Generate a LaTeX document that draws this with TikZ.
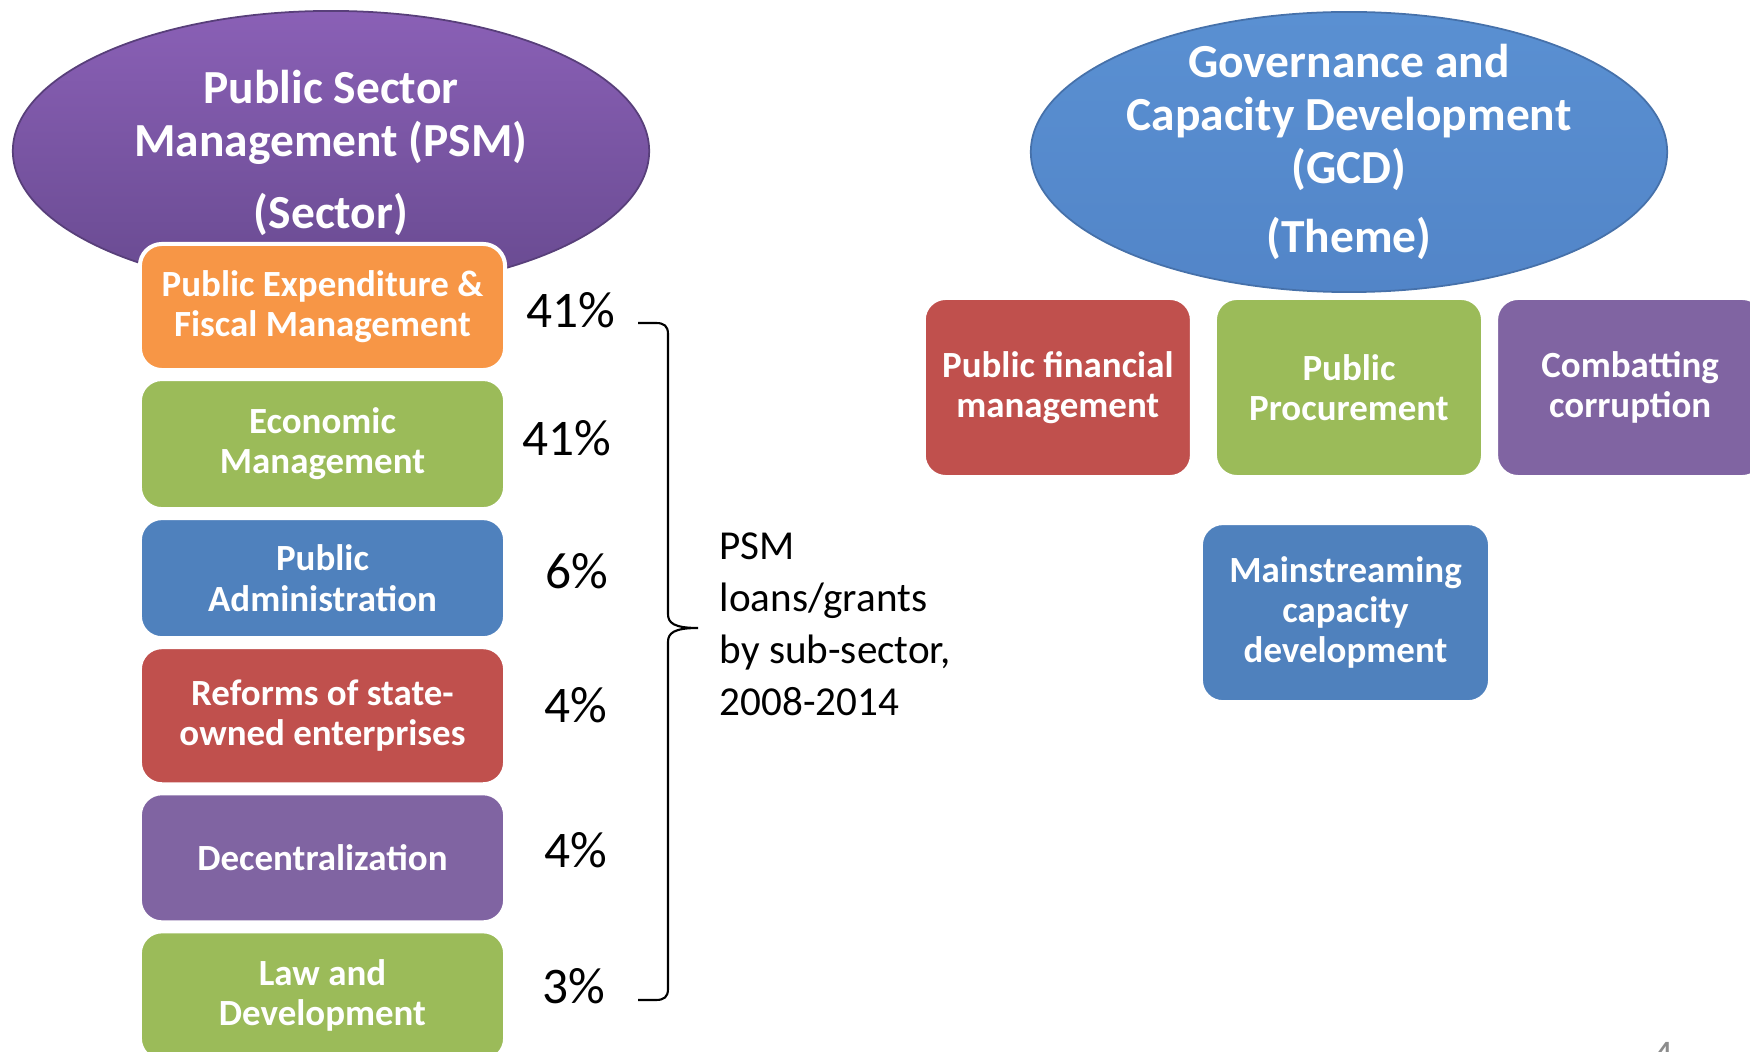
\documentclass[tikz,border=0pt]{standalone}
\usepackage{fontspec}
\setmainfont{Carlito}
\usetikzlibrary{positioning, shapes.geometric}
\definecolor{orng}{HTML}{F79646}
\definecolor{grn}{HTML}{9BBB59}
\definecolor{blu}{HTML}{4F81BD}
\definecolor{rd}{HTML}{C0504D}
\definecolor{prpl}{HTML}{8064A2}
\definecolor{psmtop}{HTML}{8A60B6}
\definecolor{psmbot}{HTML}{684A90}
\definecolor{gcdtop}{HTML}{5A90D2}
\definecolor{gcdbot}{HTML}{5285C8}

\begin{document}
\begin{tikzpicture}[x=0.01cm,y=-0.01cm,node distance=0.09cm,
        oval/.style={ellipse,inner sep=0pt,minimum width=6.36cm,minimum height=2.8cm,line width=0.5pt},
        title/.style={text=white,align=center,font=\fontsize{13.5}{15.1}\selectfont\bfseries},
        sub/.style={rounded corners=0.22cm,draw=white,line width=0.04cm,fill=#1,text=white,
            align=center,outer sep=0pt,minimum width=3.65cm,font=\fontsize{10.5}{11.4}\selectfont\bfseries},
        pct/.style={font=\fontsize{14.6}{17}\selectfont},
        note/.style={align=left,font=\fontsize{11.7}{14.8}\selectfont}]
                \useasboundingbox (0,0) rectangle (1750,1052);
                \node[oval,draw=psmbot!85!black,top color=psmtop,bottom color=psmbot] (psm) at (331,151) {};
                \node[title] (psmtxt) at (331,153) {Public Sector\\Management (PSM)\\[5.3pt](Sector)};
                \node[sub=orng,minimum height=1.26cm] (pefm) at (322.5,307) {Public Expenditure \&\\Fiscal Management};
                \node[sub=grn,minimum height=1.30cm] (em) [below=of pefm] {Economic\\Management};
                \node[sub=blu,minimum height=1.20cm] (pa) [below=of em] {Public\\Administration};
                \node[sub=rd,minimum height=1.37cm] (soe) [below=of pa] {Reforms of state-\\owned enterprises};
                \node[sub=prpl,minimum height=1.29cm] (dec) [below=of soe] {Decentralization};
                \node[sub=grn,minimum height=1.29cm] (law) [below=of dec] {Law and\\Development};
                \node[pct] (p1) at (571,310) {41\%};
                \node[pct] (p2) at (567,438) {41\%};
                \node[pct] (p3) at (577,571) {6\%};
                \node[pct] (p4) at (576,705) {4\%};
                \node[pct] (p5) at (576,850) {4\%};
                \node[pct] (p6) at (574,986) {3\%};
                \coordinate (btop) at (638,323);
                \coordinate (btip) at (698,628);
                \coordinate (bbot) at (638,1000);
                \draw[line width=0.6pt] (btop) -- (656,323) .. controls (664,323) and (668,326) .. (668,334)
                    -- (668,614) .. controls (668,623) and (674,628) .. (btip)
                    .. controls (674,628) and (668,633) .. (668,642)
                    -- (668,989) .. controls (668,997) and (664,1000) .. (656,1000) -- (bbot);
                \node[note,anchor=base west,inner sep=0pt] (psmnote) at (719,716) {PSM\\loans/grants\\by sub-sector,\\2008-2014};
                \node[oval,draw=gcdbot!85!black,top color=gcdtop,bottom color=gcdbot] (gcd) at (1349,152) {};
                \node[title] (gcdtxt) at (1349,152) {Governance and\\Capacity Development\\(GCD)\\[4.6pt](Theme)};
                \node[sub=grn,minimum width=2.68cm,minimum height=1.79cm] (proc) at (1349,387.5) {Public\\Procurement};
                \node[sub=rd,minimum width=2.68cm,minimum height=1.79cm] (pfm) [left=0.23cm of proc] {Public financial\\management};
                \node[sub=prpl,minimum width=2.68cm,minimum height=1.79cm] (corr) [right=0.13cm of proc] {Combatting\\corruption};
                \node[sub=blu,minimum width=2.89cm,minimum height=1.79cm] (mcd) [below=0.46cm of proc,xshift=-0.035cm] {Mainstreaming\\capacity\\development};
                \node[text=gray!90,font=\fontsize{12}{14}\selectfont,anchor=north,inner sep=0pt] (pg) at (1663,1042) {4};
            \end{tikzpicture}
\end{document}
